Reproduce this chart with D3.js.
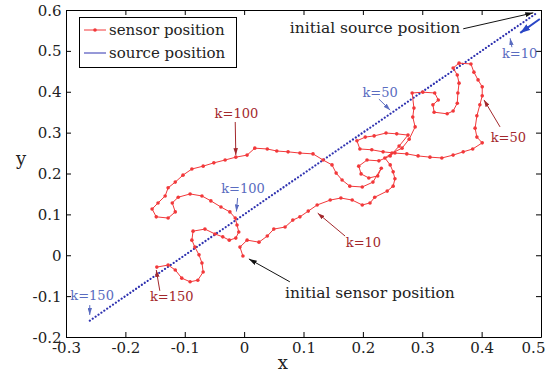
<!DOCTYPE html>
<html>
<head>
<meta charset="utf-8">
<script src="https://cdnjs.cloudflare.com/ajax/libs/d3/7.8.5/d3.min.js"></script>
<style>
    html, body { margin: 0; padding: 0; background: #fff; }
    svg { display: block; font-family: "DejaVu Serif", serif; }
</style>
</head>
<body>
<svg id="chart" width="547" height="374"></svg>
<script>
// Tick values
const xTicks = [-0.3, -0.2, -0.1, 0, 0.1, 0.2, 0.3, 0.4, 0.5];
const yTicks = [-0.2, -0.1, 0, 0.1, 0.2, 0.3, 0.4, 0.5, 0.6];

// Sensor trajectory
const sensorX = [
    -0.002, -0.007, 0.005, 0.025, 0.039, 0.050, 0.069, 0.082, 0.094, 0.108,
    0.123, 0.145, 0.163, 0.182, 0.199, 0.212, 0.220, 0.241, 0.251, 0.254,
    0.251, 0.246, 0.237, 0.249, 0.266, 0.278, 0.288, 0.284, 0.286, 0.283,
    0.301, 0.321, 0.327, 0.318, 0.320, 0.342, 0.352, 0.359, 0.360, 0.362,
    0.359, 0.352, 0.362, 0.382, 0.387, 0.394, 0.401, 0.401, 0.397, 0.392,
    0.389, 0.392, 0.401, 0.385, 0.369, 0.352, 0.333, 0.313, 0.293, 0.274,
    0.254, 0.234, 0.215, 0.195, 0.190, 0.204, 0.219, 0.239, 0.257, 0.276,
    0.261, 0.246, 0.227, 0.207, 0.193, 0.197, 0.210, 0.225, 0.231, 0.217,
    0.199, 0.178, 0.165, 0.155, 0.148, 0.133, 0.116, 0.094, 0.074, 0.055,
    0.039, 0.018, 0.005, -0.014, -0.032, -0.051, -0.069, -0.088, -0.103, -0.116,
    -0.128, -0.133, -0.145, -0.155, -0.148, -0.128, -0.116, -0.121, -0.111, -0.091,
    -0.071, -0.056, -0.039, -0.024, -0.015, -0.012, -0.009, -0.014, -0.025, -0.036,
    -0.049, -0.066, -0.086, -0.088, -0.083, -0.076, -0.071, -0.069, -0.078, -0.091,
    -0.105, -0.116, -0.128, -0.147
];
const sensorY = [
    -0.002, 0.020, 0.037, 0.032, 0.047, 0.064, 0.069, 0.086, 0.094, 0.108,
    0.123, 0.135, 0.140, 0.135, 0.123, 0.128, 0.142, 0.157, 0.169, 0.187,
    0.204, 0.221, 0.238, 0.250, 0.262, 0.284, 0.314, 0.338, 0.360, 0.397,
    0.399, 0.397, 0.380, 0.368, 0.350, 0.346, 0.353, 0.372, 0.397, 0.421,
    0.441, 0.458, 0.470, 0.468, 0.448, 0.429, 0.412, 0.390, 0.368, 0.341,
    0.311, 0.289, 0.275, 0.260, 0.253, 0.245, 0.238, 0.240, 0.243, 0.248,
    0.250, 0.253, 0.258, 0.260, 0.280, 0.289, 0.292, 0.299, 0.297, 0.294,
    0.267, 0.243, 0.231, 0.233, 0.218, 0.199, 0.189, 0.194, 0.213, 0.179,
    0.167, 0.169, 0.184, 0.201, 0.221, 0.233, 0.248, 0.250, 0.253, 0.255,
    0.260, 0.262, 0.245, 0.240, 0.233, 0.226, 0.218, 0.211, 0.196, 0.179,
    0.165, 0.145, 0.128, 0.113, 0.094, 0.091, 0.106, 0.128, 0.142, 0.150,
    0.145, 0.133, 0.118, 0.106, 0.091, 0.074, 0.057, 0.042, 0.037, 0.045,
    0.052, 0.064, 0.059, 0.037, 0.020, 0.001, -0.019, -0.041, -0.061, -0.065,
    -0.056, -0.036, -0.024, -0.029
];

// Source trajectory: straight run from initial to final position
const sourceX = [0.49, -0.26];
const sourceY = [0.59, -0.16];

// Annotations (data coordinates): label position and arrow tail/head
const annotations = [
    { text: 'initial source position', kind: 'black', anchor: 'start', x: 0.077, y: 0.544, from: [0.369, 0.554], to: [0.487, 0.593] },
    { text: 'initial sensor position', kind: 'black', anchor: 'start', x: 0.069, y: -0.105, from: [0.077, -0.065], to: [0.008, -0.009] },
    { text: 'k=10', kind: 'blue', anchor: 'middle', x: 0.464, y: 0.483, from: [0.451, 0.509], to: [0.448, 0.531] },
    { text: 'k=50', kind: 'blue', anchor: 'middle', x: 0.229, y: 0.387, from: [0.227, 0.382], to: [0.246, 0.355] },
    { text: 'k=100', kind: 'blue', anchor: 'middle', x: -0.002, y: 0.152, from: [-0.011, 0.140], to: [-0.013, 0.107] },
    { text: 'k=150', kind: 'blue', anchor: 'middle', x: -0.256, y: -0.109, from: [-0.260, -0.122], to: [-0.260, -0.146] },
    { text: 'k=10', kind: 'red', anchor: 'middle', x: 0.201, y: 0.020, from: [0.170, 0.047], to: [0.124, 0.103] },
    { text: 'k=50', kind: 'red', anchor: 'middle', x: 0.445, y: 0.277, from: [0.431, 0.314], to: [0.404, 0.380] },
    { text: 'k=100', kind: 'red', anchor: 'middle', x: -0.013, y: 0.336, from: [-0.015, 0.326], to: [-0.014, 0.245] },
    { text: 'k=150', kind: 'red', anchor: 'middle', x: -0.122, y: -0.112, from: [-0.142, -0.087], to: [-0.148, -0.036] },
];
// Direction of source motion
const motionArrow = { from: [0.498, 0.578], to: [0.465, 0.544] };

const colours = {
    sensor: '#f2383a',
    source: '#2f32b0',
    black: '#111',
    red: '#a3282c',
    blue: '#5a6cc0',
    motion: '#2a46c6',
};

const width = 547;
const height = 374;
const margins = { left: 66, top: 10, right: 6, bottom: 37 };
const innerWidth = width - margins.left - margins.right;
const innerHeight = height - margins.top - margins.bottom;

const svg = d3.select('#chart');

const x = d3.scaleLinear().domain([-0.3, 0.5]).range([0, innerWidth]);
const y = d3.scaleLinear().domain([-0.2, 0.6]).range([innerHeight, 0]);

const fmt = (d) => (Math.abs(d) < 1e-9 ? '0' : d3.format('.1f')(d).replace('\u2212', '-'));

// Arrow heads
const defs = svg.append('defs');
const addMarker = (id, colour, w, h) => {
    defs.append('marker')
        .attr('id', id)
        .attr('markerUnits', 'userSpaceOnUse')
        .attr('viewBox', `0 0 ${w} ${h}`)
        .attr('markerWidth', w)
        .attr('markerHeight', h)
        .attr('refX', w)
        .attr('refY', h / 2)
        .attr('orient', 'auto')
        .append('path')
        .attr('d', `M0,0L${w},${h / 2}L0,${h}Z`)
        .style('fill', colour);
};
addMarker('head-black', colours.black, 8, 5);
addMarker('head-red', colours.red, 7, 4.5);
addMarker('head-blue', colours.blue, 7, 4.5);
addMarker('head-motion', colours.motion, 10, 7);

const plot = svg.append('g')
    .attr('transform', `translate(${margins.left}, ${margins.top})`);

// Axes (ticks point inward, box on all four sides)
const styleAxis = (g) => {
    g.attr('font-family', '"DejaVu Serif", serif').attr('font-size', 15);
    g.select('.domain').style('stroke', '#000').style('stroke-width', 1);
    g.selectAll('.tick line').style('stroke', '#000');
    g.selectAll('.tick text').style('fill', '#222');
};

const xAxis = plot.append('g')
    .attr('transform', `translate(0, ${innerHeight})`)
    .call(d3.axisBottom(x).tickValues(xTicks).tickFormat(fmt).tickSize(-5).tickSizeOuter(0))
    .call(styleAxis);

xAxis.selectAll('.tick text')
    .attr('y', 16)
    .attr('dy', null);

// last label is pulled in so it stays inside the picture
xAxis.selectAll('.tick text')
    .filter((d) => d === 0.5)
    .attr('x', -8);

const yAxis = plot.append('g')
    .call(d3.axisLeft(y).tickValues(yTicks).tickFormat(fmt).tickSize(-5).tickSizeOuter(0))
    .call(styleAxis);

yAxis.selectAll('.tick text')
    .attr('x', -4.5)
    .attr('y', 5)
    .attr('dy', null);

plot.append('g')
    .call(d3.axisTop(x).tickValues(xTicks).tickFormat('').tickSize(-5).tickSizeOuter(0))
    .call(styleAxis);

plot.append('g')
    .attr('transform', `translate(${innerWidth}, 0)`)
    .call(d3.axisRight(y).tickValues(yTicks).tickFormat('').tickSize(-5).tickSizeOuter(0))
    .call(styleAxis);

// Axis titles
svg.append('text')
    .attr('x', margins.left + x(0.065))
    .attr('y', height - 5)
    .style('text-anchor', 'middle')
    .style('font-size', '18px')
    .style('fill', '#222')
    .text('x');

svg.append('text')
    .attr('x', 21)
    .attr('y', margins.top + y(0.22))
    .style('text-anchor', 'middle')
    .style('font-size', '18px')
    .style('fill', '#222')
    .text('y');

// Source positions (dotted)
const sourceData = sourceX.map((d, i) => ({ x: d, y: sourceY[i] }));
const line = d3.line().x((d) => x(d.x)).y((d) => y(d.y));

plot.append('path')
    .datum(sourceData)
    .attr('d', line)
    .style('fill', 'none')
    .style('stroke', colours.source)
    .style('stroke-width', 2.2)
    .style('stroke-linecap', 'round')
    .style('stroke-dasharray', '0.01 3.5');

// Sensor path with markers
const sensorData = sensorX.map((d, i) => ({ x: d, y: sensorY[i] }));

plot.append('path')
    .datum(sensorData)
    .attr('d', line)
    .style('fill', 'none')
    .style('stroke', colours.sensor)
    .style('stroke-width', 1);

plot.selectAll('circle.sensor')
    .data(sensorData)
    .enter()
    .append('circle')
    .attr('class', 'sensor')
    .attr('cx', (d) => x(d.x))
    .attr('cy', (d) => y(d.y))
    .attr('r', 1.8)
    .style('fill', colours.sensor);

// Annotations
const notes = plot.selectAll('g.note')
    .data(annotations)
    .enter()
    .append('g')
    .attr('class', 'note');

notes.append('line')
    .attr('x1', (d) => x(d.from[0]))
    .attr('y1', (d) => y(d.from[1]))
    .attr('x2', (d) => x(d.to[0]))
    .attr('y2', (d) => y(d.to[1]))
    .style('stroke', (d) => colours[d.kind])
    .style('stroke-width', 1)
    .attr('marker-end', (d) => `url(#head-${d.kind})`);

notes.append('text')
    .attr('x', (d) => x(d.x))
    .attr('y', (d) => y(d.y))
    .style('text-anchor', (d) => d.anchor)
    .style('font-size', (d) => (d.kind === 'black' ? '15.5px' : '13px'))
    .style('fill', (d) => (d.kind === 'black' ? '#222' : colours[d.kind]))
    .text((d) => d.text);

plot.append('line')
    .attr('x1', x(motionArrow.from[0]))
    .attr('y1', y(motionArrow.from[1]))
    .attr('x2', x(motionArrow.to[0]))
    .attr('y2', y(motionArrow.to[1]))
    .style('stroke', colours.motion)
    .style('stroke-width', 2)
    .attr('marker-end', 'url(#head-motion)');

// Legend
const legend = svg.append('g')
    .attr('transform', 'translate(79.5, 17.5)');

legend.append('rect')
    .attr('width', 157)
    .attr('height', 50)
    .style('fill', '#fff')
    .style('stroke', '#000')
    .style('stroke-width', 1);

const legendItems = [
    { name: 'sensor position', colour: colours.sensor, marker: true },
    { name: 'source position', colour: colours.source, marker: false },
];

const items = legend.selectAll('g.legend-item')
    .data(legendItems)
    .enter()
    .append('g')
    .attr('class', 'legend-item')
    .attr('transform', (d, i) => `translate(0, ${12.5 + i * 23})`);

items.append('line')
    .attr('x1', 4.5)
    .attr('x2', 26.5)
    .style('stroke', (d) => d.colour)
    .style('stroke-width', 1);

items.filter((d) => d.marker)
    .append('circle')
    .attr('cx', 15.5)
    .attr('r', 1.8)
    .style('fill', (d) => d.colour);

items.append('text')
    .attr('x', 29.5)
    .attr('y', 5)
    .style('font-size', '15px')
    .style('fill', '#222')
    .text((d) => d.name);
</script>
</body>
</html>
